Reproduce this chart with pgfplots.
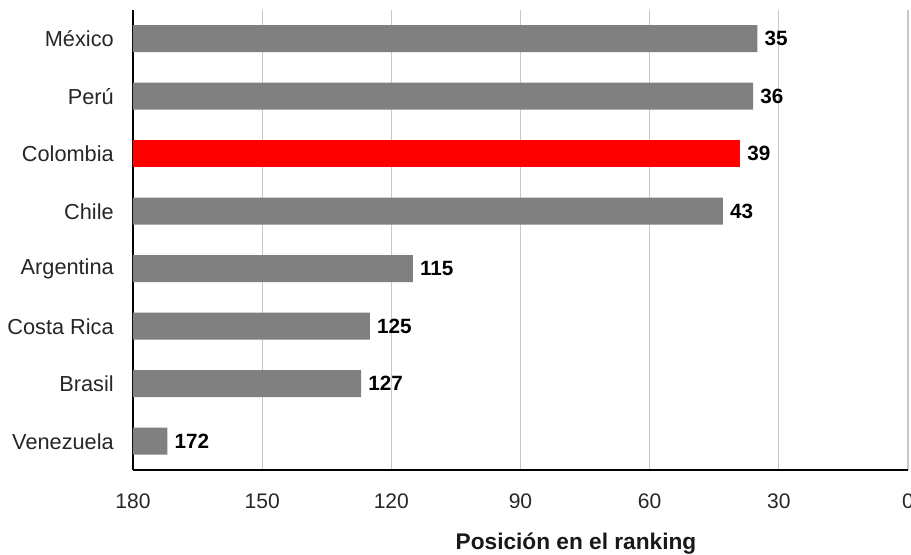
\documentclass[border=0pt]{standalone}
\usepackage{fontspec}
\setmainfont{Liberation Sans}
\usepackage{pgfplots}
\pgfplotsset{compat=1.18}
\definecolor{bargray}{HTML}{808080}
\definecolor{gridgray}{HTML}{C8C8C8}
\begin{document}
\begin{tikzpicture}
\begin{axis}[
 name=ax,
 scale only axis,
 width=581.25pt, height=345pt,
 xmin=0, xmax=180, ymin=-0.5, ymax=7.5,
 xbar, bar width=20.25pt, bar shift=0pt,
 axis x line*=bottom, axis y line*=left,
 axis line style={-, black, line width=1.1pt},
 xtick={0,30,...,180},
 xticklabels={180,150,120,90,60,30,0},
 ytick={0,...,7},
 yticklabels={Venezuela,Brasil,Costa Rica,Argentina,Chile,Colombia,Perú,México},
 major tick length=0pt,
 xmajorgrids, grid style={gridgray, line width=0.8pt},
 tick label style={font=\fontsize{15.8}{18}\selectfont, text=black!85},
 /pgf/number format/assume math mode=true,
 xticklabel style={anchor=base, yshift=-29.25pt},
 yticklabel style={anchor=east, inner sep=0pt, xshift=-14.25pt, font=\fontsize{16.3}{18}\selectfont},
 xlabel={Posición en el ranking},
 xlabel style={at={(axis description cs:0.5716,0)}, anchor=base, yshift=-60pt, font=\bfseries\fontsize{17}{20}\selectfont, text=black!90},
 every node near coord/.append style={font=\bfseries\fontsize{15.5}{18}\selectfont, anchor=west, inner sep=0pt, xshift=5.25pt, text=black},
]
\addplot[fill=bargray, draw=none, nodes near coords, point meta=explicit symbolic] table[x=x, y=y, meta=r] {
x y r
145 7 35
144 6 36
137 4 43
65 3 115
55 2 125
53 1 127
8 0 172
};
\addplot[fill=red, draw=none, nodes near coords, point meta=explicit symbolic] table[x=x, y=y, meta=r] {
x y r
141 5 39
};
\end{axis}
\pgfresetboundingbox
\path[use as bounding box] ([xshift=-99.75pt,yshift=-63.75pt]ax.south west) rectangle ([xshift=2.25pt,yshift=7.5pt]ax.north east);
\end{tikzpicture}
\end{document}
